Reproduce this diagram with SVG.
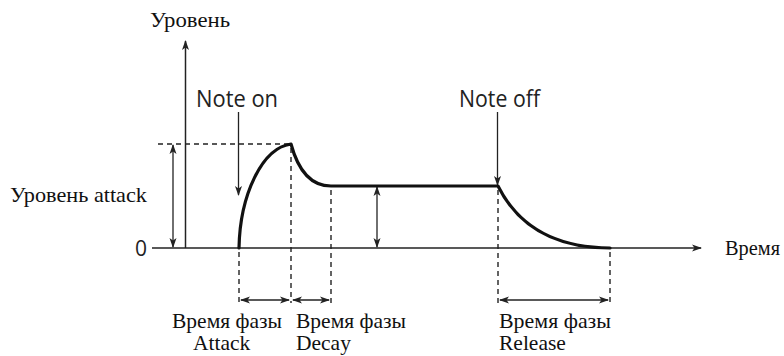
<svg xmlns="http://www.w3.org/2000/svg" width="784" height="356" viewBox="0 0 784 356">
<defs>
<marker id="ah" markerWidth="10" markerHeight="8" refX="9" refY="4" orient="auto-start-reverse" markerUnits="userSpaceOnUse">
<path d="M0,0.5 L10,4 L0,7.5 L2.5,4 Z" fill="#222"/>
</marker>
<style>
.serif{font-family:"Liberation Serif","Times New Roman",serif;font-size:21.5px;fill:#111}
.sans{font-family:"Open Sans","Noto Sans",sans-serif;font-size:23px;fill:#222}
.ax{stroke:#222;stroke-width:1.5;fill:none}
.thin{stroke:#222;stroke-width:1.3;fill:none}
.dash{stroke:#222;stroke-width:1.4;fill:none;stroke-dasharray:5,4}
.env{stroke:#111;stroke-width:3.2;fill:none;stroke-linecap:round;stroke-linejoin:round}
</style>
</defs>
<rect width="784" height="356" fill="#fff"/>
<g id="connectors">
<line class="ax" x1="185.5" y1="248" x2="185.5" y2="41" marker-end="url(#ah)"/>
<line class="ax" x1="152" y1="248" x2="701" y2="248" marker-end="url(#ah)"/>
<line class="dash" x1="158" y1="144" x2="291" y2="144"/>
<line class="thin" x1="173" y1="145" x2="173" y2="247" marker-start="url(#ah)" marker-end="url(#ah)"/>
<line class="thin" x1="377" y1="187" x2="377" y2="247" marker-start="url(#ah)" marker-end="url(#ah)"/>
<line class="thin" x1="238.5" y1="112" x2="238.5" y2="195" marker-end="url(#ah)"/>
<line class="thin" x1="497.5" y1="112" x2="497.5" y2="185" marker-end="url(#ah)"/>
<line class="dash" x1="239" y1="252" x2="239" y2="303"/>
<line class="dash" x1="291" y1="148" x2="291" y2="303"/>
<line class="dash" x1="331" y1="190" x2="331" y2="303"/>
<line class="dash" x1="498" y1="190" x2="498" y2="303"/>
<line class="dash" x1="610" y1="252" x2="610" y2="303"/>
<line class="thin" x1="241" y1="300" x2="289" y2="300" marker-start="url(#ah)" marker-end="url(#ah)"/>
<line class="thin" x1="293" y1="300" x2="329" y2="300" marker-start="url(#ah)" marker-end="url(#ah)"/>
<line class="thin" x1="500" y1="300" x2="608" y2="300" marker-start="url(#ah)" marker-end="url(#ah)"/>
</g>
<g id="envelope">
<path class="env" d="M239,248 C240,195 262,148 291,144 C298,170 310,186 331,186 L498,186 C520,230 560,248 610,248"/>
</g>
<g id="labels">
<text class="serif" x="150" y="27" textLength="80" lengthAdjust="spacingAndGlyphs">Уровень</text>
<text class="sans" x="196" y="107" textLength="82" lengthAdjust="spacingAndGlyphs">Note on</text>
<text class="sans" x="459" y="107" textLength="81" lengthAdjust="spacingAndGlyphs">Note off</text>
<text class="serif" x="10" y="202" textLength="137" lengthAdjust="spacingAndGlyphs">Уровень attack</text>
<text class="sans" x="135" y="256" style="font-size:21px">0</text>
<text class="serif" x="725" y="255" textLength="55" lengthAdjust="spacingAndGlyphs">Время</text>
<text class="serif" x="172" y="328" textLength="110" lengthAdjust="spacingAndGlyphs">Время фазы</text>
<text class="serif" x="193" y="350">Attack</text>
<text class="serif" x="296" y="328" textLength="110" lengthAdjust="spacingAndGlyphs">Время фазы</text>
<text class="serif" x="296" y="350">Decay</text>
<text class="serif" x="499" y="328" textLength="112" lengthAdjust="spacingAndGlyphs">Время фазы</text>
<text class="serif" x="499" y="350">Release</text>
</g>
</svg>
